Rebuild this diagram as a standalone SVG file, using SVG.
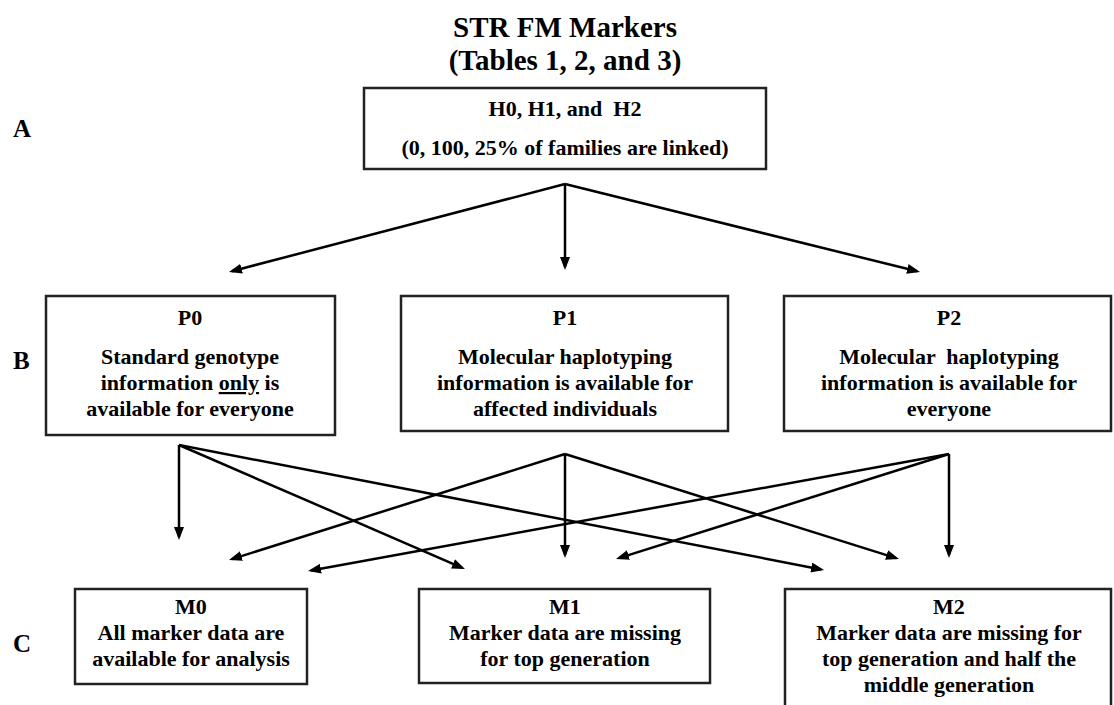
<svg xmlns="http://www.w3.org/2000/svg" width="1114" height="705" viewBox="0 0 1114 705">
<style>
  text { font-family: "Liberation Serif", "Times New Roman", serif; font-weight: bold; fill: #000; white-space: pre; }
  .t { font-size: 29px; text-anchor: middle; }
  .b { font-size: 22px; text-anchor: middle; }
  .lbl { font-size: 25px; }
  .box { fill: #fff; stroke: #222; stroke-width: 2.5; }
  .c line { stroke: #000; stroke-width: 2.5; marker-end: url(#ah); }
</style>
<defs>
  <marker id="ah" markerUnits="userSpaceOnUse" markerWidth="13" markerHeight="10" refX="10" refY="5" orient="auto">
    <path d="M0,0 L13,5 L0,10 z" fill="#000"/>
  </marker>
</defs>
<rect width="1114" height="705" fill="#fff"/>
<g id="title">
  <text class="t" x="565" y="37">STR FM Markers</text>
  <text class="t" x="565" y="70">(Tables 1, 2, and 3)</text>
</g>
<g id="labels">
  <text class="lbl" x="13" y="137">A</text>
  <text class="lbl" x="13" y="369">B</text>
  <text class="lbl" x="13" y="652">C</text>
</g>
<g id="H">
  <rect class="box" x="364" y="88" width="402" height="81"/>
  <text class="b" x="565" y="116">H0, H1, and  H2</text>
  <text class="b" x="565" y="155">(0, 100, 25% of families are linked)</text>
</g>
<g id="P0">
  <rect class="box" x="46" y="296" width="289" height="139"/>
  <text class="b" x="190" y="325">P0</text>
  <text class="b" x="190" y="364">Standard genotype</text>
  <text class="b" x="190" y="390">information <tspan text-decoration="underline">only</tspan> is</text>
  <text class="b" x="190" y="416">available for everyone</text>
</g>
<g id="P1">
  <rect class="box" x="401" y="296" width="327" height="135"/>
  <text class="b" x="565" y="325">P1</text>
  <text class="b" x="565" y="364">Molecular haplotyping</text>
  <text class="b" x="565" y="390">information is available for</text>
  <text class="b" x="565" y="416">affected individuals</text>
</g>
<g id="P2">
  <rect class="box" x="784" y="296" width="327" height="135"/>
  <text class="b" x="949" y="325">P2</text>
  <text class="b" x="949" y="364">Molecular  haplotyping</text>
  <text class="b" x="949" y="390">information is available for</text>
  <text class="b" x="949" y="416">everyone</text>
</g>
<g id="M0">
  <rect class="box" x="75" y="589" width="232" height="95"/>
  <text class="b" x="191" y="614">M0</text>
  <text class="b" x="191" y="640">All marker data are</text>
  <text class="b" x="191" y="666">available for analysis</text>
</g>
<g id="M1">
  <rect class="box" x="419" y="589" width="291" height="94"/>
  <text class="b" x="565" y="614">M1</text>
  <text class="b" x="565" y="640">Marker data are missing</text>
  <text class="b" x="565" y="666">for top generation</text>
</g>
<g id="M2">
  <rect class="box" x="785" y="589" width="326" height="120"/>
  <text class="b" x="949" y="614">M2</text>
  <text class="b" x="949" y="640">Marker data are missing for</text>
  <text class="b" x="949" y="666">top generation and half the</text>
  <text class="b" x="949" y="692">middle generation</text>
</g>
<g id="connectors" class="c">
  <line x1="565" y1="184" x2="231.9" y2="271.2"/>
  <line x1="565" y1="184" x2="565" y2="267"/>
  <line x1="565" y1="184" x2="917.1" y2="271.3"/>
  <line x1="179" y1="445" x2="179" y2="537"/>
  <line x1="179" y1="445" x2="462.2" y2="567.8"/>
  <line x1="179" y1="445" x2="821.1" y2="569.4"/>
  <line x1="565" y1="454" x2="231.9" y2="559.1"/>
  <line x1="565" y1="454" x2="565" y2="555"/>
  <line x1="565" y1="454" x2="896.1" y2="558.1"/>
  <line x1="949" y1="454" x2="311" y2="570.5"/>
  <line x1="949" y1="454" x2="618.9" y2="558.1"/>
  <line x1="949" y1="454" x2="949" y2="555"/>
</g>
</svg>
